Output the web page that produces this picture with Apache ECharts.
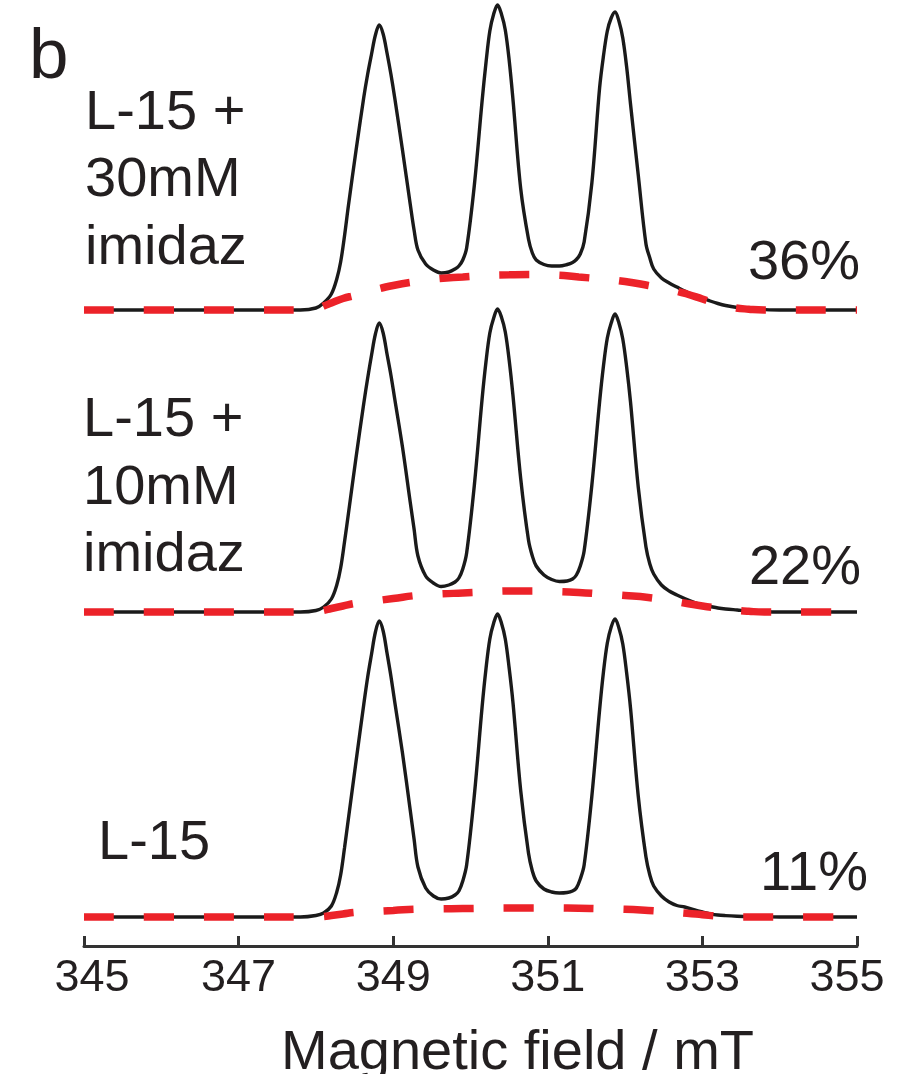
<!DOCTYPE html>
<html>
<head>
<meta charset="utf-8">
<title>EPR spectra – L-15 with imidazole</title>
<script src="https://cdn.jsdelivr.net/npm/echarts@6/dist/echarts.min.js"></script>
<style>
  html, body { margin: 0; padding: 0; background: #ffffff; }
  #chart { width: 917px; height: 1074px; }
</style>
</head>
<body>
<div id="chart"></div>
<script>
// Magnetic field sampling (mT) for the measured spectra
const fieldGrid = [
  345.0, 346.0, 347.0, 347.5, 347.8, 348.0, 348.1, 348.2, 348.27,
  348.32, 348.37, 348.42, 348.52, 348.62, 348.67, 348.72, 348.77, 348.82, 348.87, 348.92, 348.97, 349.02, 349.12, 349.22, 349.27, 349.32,
  349.42, 349.52, 349.62, 349.72,
  349.8, 349.85, 349.9, 349.95, 350.05, 350.15, 350.2, 350.25, 350.3, 350.35, 350.4, 350.45, 350.5, 350.55, 350.65, 350.75, 350.8, 350.85,
  350.95, 351.05, 351.15, 351.25,
  351.32, 351.37, 351.42, 351.47, 351.57, 351.67, 351.72, 351.77, 351.82, 351.87, 351.92, 351.97, 352.02, 352.07, 352.17, 352.27, 352.32, 352.37,
  352.47, 352.57, 352.67, 352.77, 352.9, 353.0, 353.1, 353.2, 353.3, 353.45, 353.6, 353.8, 354.0, 354.5, 355.0
];

// Integrated spectra (a.u.)
const spectrumL15 = [
  0, 0, 0, 0, 0, 1.5, 4, 11, 25,
  42, 69, 98, 156, 213, 240, 263, 285, 296, 286, 264, 241, 215, 164, 107, 78, 50,
  29, 21, 18, 19,
  22, 26, 36, 52, 122, 210, 248, 278, 294, 303, 294, 278, 249, 214, 126, 64, 46, 36,
  28, 25, 24, 24.5,
  26, 29, 38, 52, 121, 207, 245, 274, 290, 298, 289, 273, 244, 209, 121, 60, 42, 31,
  21, 15, 11.5, 10, 7, 5, 3.2, 2, 1.4, 0.8, 0.4, 0.2, 0, 0, 0
];
const spectrumImidaz10 = [
  0, 0, 0, 0, 0, 1.5, 5, 13, 27,
  44, 70, 98, 155, 209, 234, 257, 278, 289, 279, 258, 237, 213, 165, 110, 83, 56,
  36, 29, 25.5, 27,
  30, 34, 43, 59, 127, 213, 250, 279, 294, 303, 295, 280, 252, 216, 133, 72, 56, 46,
  37, 32.5, 30.5, 31,
  33, 37, 46, 61, 127, 210, 246, 274, 289, 298, 289, 273, 245, 210, 125, 65, 48, 38,
  27, 21, 17, 13.5, 9.5, 7, 5.5, 4, 3, 2, 1, 0.3, 0, 0, 0
];
const spectrumImidaz30 = [
  0, 0, 0, 0, 0, 2, 7, 16, 31,
  48, 74, 104, 160, 213, 236, 256, 275, 285, 276, 257, 236, 212, 160, 106, 80, 60,
  46, 40, 37, 38,
  41, 44, 50, 62, 125, 209, 247, 279, 296, 305, 296, 280, 250, 210, 121, 71, 57, 50,
  45.5, 44, 44, 45.5,
  47.5, 50.5, 56, 68, 127, 222, 254, 279, 292, 298, 289, 272, 243, 206, 135, 66, 52, 41,
  32, 27, 23, 19, 14.5, 12, 9, 6.5, 4.5, 2.5, 1.2, 0.4, 0, 0, 0
];

// Broad (immobilised) component
const broadField = [
  345, 346, 347, 347.8, 348.0, 348.1, 348.2, 348.35, 348.5, 348.7, 349.0, 349.3, 349.6, 349.9, 350.2, 350.5,
  350.8, 351.1, 351.4, 351.7, 352.0, 352.3, 352.6, 352.8, 353.0, 353.2, 353.4, 353.6, 353.8, 354, 354.5, 355
];
const broadL15 = [
  0, 0, 0, 0, 0, 0.5, 1.5, 3, 4.5, 5.3, 6.5, 7.8, 8.1, 8.4, 8.7, 9,
  9, 9, 8.7, 8.2, 7.8, 6.5, 4.8, 3.8, 2.3, 0.8, 0.2, 0, 0, 0, 0, 0
];
const broadImidaz10 = [
  0, 0, 0, 0, 0, 1.5, 3.5, 6, 8.5, 10.5, 13.5, 16.5, 18, 19, 20, 21,
  21, 20.5, 19.5, 18, 16.5, 14.5, 11, 8.5, 6, 4, 2, 0.7, 0, 0, 0, 0
];
const broadImidaz30 = [
  0, 0, 0, 0, 0.5, 4, 7, 11.5, 14.5, 19, 24.5, 28.5, 31.5, 33, 34.5, 35.2,
  35.5, 35, 33, 31, 28.5, 24.5, 20, 16, 11, 6, 2.5, 0.8, 0, 0, 0, 0
];

// Sample names (one line per row) and immobile fraction, bottom to top
const sampleNames = [['L-15'], ['L-15 +', '10mM', 'imidaz'], ['L-15 +', '30mM', 'imidaz']];
const immobileFraction = [11, 22, 36];
const panelLetter = 'b';
const axisTitle = 'Magnetic field / mT';

const fieldMin = 345, fieldMax = 355, fieldStep = 2;

// ---- drawing ----
const FONT = "'Liberation Sans', Arial, Helvetica, sans-serif";
const INK = '#231f20';
const TRACE = '#1a1a1a';
const BROAD = '#ec2229';

const traceOffsets = [0, 305, 607];   // vertical stacking of the three spectra
const spectra = [spectrumL15, spectrumImidaz10, spectrumImidaz30];
const broads = [broadL15, broadImidaz10, broadImidaz30];

const series = [];
spectra.forEach((s, k) => {
  series.push({
    type: 'line',
    name: sampleNames[k].join(' '),
    data: fieldGrid.map((x, i) => [x, s[i] + traceOffsets[k]]),
    showSymbol: false,
    symbol: 'none',
    smooth: 0.35,
    lineStyle: { color: TRACE, width: 3.4 },
    z: 2
  });
});
broads.forEach((b, k) => {
  series.push({
    type: 'line',
    name: 'broad ' + immobileFraction[k] + '%',
    data: broadField.map((x, i) => [x, b[i] + traceOffsets[k]]),
    showSymbol: false,
    symbol: 'none',
    smooth: 0.5,
    lineStyle: { color: BROAD, width: 7.5, type: [30, 30], cap: 'butt' },
    z: 3
  });
});

// text placed by its baseline
function textAt(text, x, baseline, size, align) {
  return {
    type: 'text',
    x: x,
    y: baseline - 0.3465 * size,
    silent: true,
    style: {
      text: text,
      fontSize: size,
      fontFamily: FONT,
      fill: INK,
      align: align || 'left',
      verticalAlign: 'middle'
    }
  };
}

const graphics = [textAt(panelLetter, 29, 83, 71)];
// sample names
const nameLayout = [
  { x: 98, baselines: [863] },
  { x: 83, baselines: [440, 508, 575] },
  { x: 85, baselines: [133, 200, 268] }
];
sampleNames.forEach((lines, k) => {
  lines.forEach((ln, j) => graphics.push(textAt(ln, nameLayout[k].x, nameLayout[k].baselines[j], 56)));
});
// immobile fractions
const fracLayout = [{ x: 868, b: 894 }, { x: 861, b: 588 }, { x: 860, b: 283 }];
immobileFraction.forEach((v, k) => graphics.push(textAt(v + '%', fracLayout[k].x, fracLayout[k].b, 56, 'right')));

const chart = echarts.init(document.getElementById('chart'), null, { renderer: 'canvas' });
chart.setOption({
  animation: false,
  backgroundColor: '#ffffff',
  grid: { left: 84, right: 60, top: 0, bottom: 128, containLabel: false, outerBoundsMode: 'none' },
  xAxis: {
    type: 'value',
    min: fieldMin,
    max: fieldMax,
    interval: fieldStep,
    name: axisTitle,
    nameLocation: 'middle',
    nameGap: 80,
    nameTextStyle: { fontSize: 56, fontFamily: FONT, color: INK, padding: [0, 0, 0, 94] },
    axisLine: { show: true, onZero: false, lineStyle: { color: '#333333', width: 3 } },
    axisTick: { show: true, inside: true, length: 10, lineStyle: { color: '#333333', width: 3 } },
    splitLine: { show: false },
    axisLabel: {
      margin: 10,
      fontSize: 45,
      fontFamily: FONT,
      color: INK,
      formatter: v => v === fieldMin ? '{first|' + v + '}' : (v === fieldMax ? '{last|' + v + '}' : String(v)),
      rich: {
        first: { padding: [0, 0, 0, 16], fontSize: 45, fontFamily: FONT, color: INK },
        last: { padding: [0, 20, 0, 0], fontSize: 45, fontFamily: FONT, color: INK }
      }
    }
  },
  yAxis: { type: 'value', min: -29, max: 917, show: false },
  series: series,
  graphic: graphics
});
</script>
</body>
</html>
